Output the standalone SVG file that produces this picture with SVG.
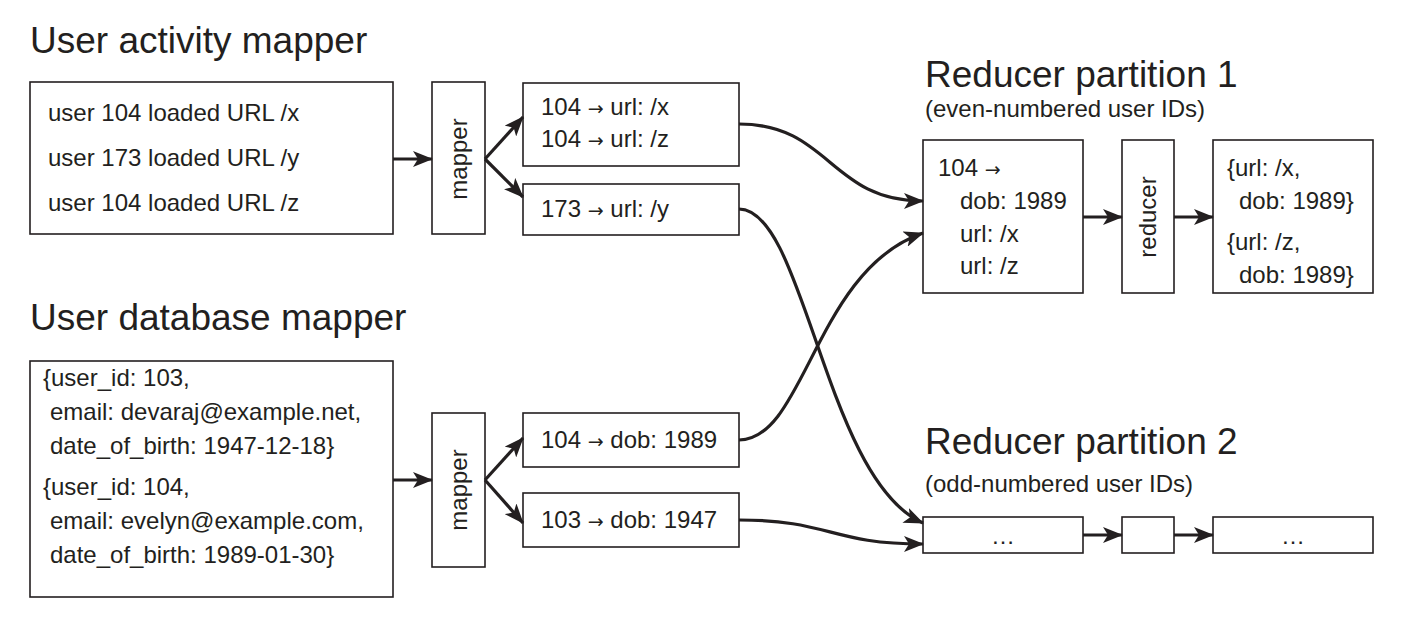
<svg xmlns="http://www.w3.org/2000/svg" width="1405" height="623" viewBox="0 0 1405 623">
  <style>
    text { font-family: "Liberation Sans", Arial, sans-serif; fill: #231f20; }
    .title { font-size: 37px; }
    .sub { font-size: 24px; }
    .body { font-size: 24px; }
    .box { fill: #ffffff; stroke: #231f20; stroke-width: 1.6; }
    .arr { font-family: "DejaVu Sans", sans-serif; font-size: 19px; }
    .edge { fill: none; stroke: #231f20; stroke-width: 3.2; marker-end: url(#head); }
  </style>
  <defs>
    <marker id="head" viewBox="0 0 20 16" markerWidth="20" markerHeight="16" refX="19" refY="8" orient="auto" markerUnits="userSpaceOnUse">
      <path d="M0,0 L20,8 L0,16 L5,8 Z" fill="#231f20"/>
    </marker>
  </defs>
  <rect width="1405" height="623" fill="#ffffff"/>

  <!-- section titles -->
  <g id="titles">
    <text class="title" x="30" y="53">User activity mapper</text>
    <text class="title" x="30" y="330">User database mapper</text>
    <text class="title" x="925" y="87">Reducer partition 1</text>
    <text class="sub" x="925" y="117">(even-numbered user IDs)</text>
    <text class="title" x="925" y="454">Reducer partition 2</text>
    <text class="sub" x="925" y="492">(odd-numbered user IDs)</text>
  </g>

  <!-- activity events -->
  <g id="activity-input">
    <rect class="box" x="30" y="82" width="363" height="152"/>
    <text class="body" x="48" y="121">user 104 loaded URL /x</text>
    <text class="body" x="48" y="166">user 173 loaded URL /y</text>
    <text class="body" x="48" y="211">user 104 loaded URL /z</text>
  </g>

  <g id="activity-mapper">
    <rect class="box" x="432" y="82" width="53" height="152"/>
    <text class="body" transform="translate(467,159) rotate(-90)" text-anchor="middle">mapper</text>
  </g>

  <g id="activity-out-104">
    <rect class="box" x="523" y="83" width="216" height="83"/>
    <text class="body" x="541" y="115">104 <tspan class="arr">→</tspan> url: /x</text>
    <text class="body" x="541" y="147">104 <tspan class="arr">→</tspan> url: /z</text>
  </g>

  <g id="activity-out-173">
    <rect class="box" x="523" y="184" width="216" height="51"/>
    <text class="body" x="541" y="217">173 <tspan class="arr">→</tspan> url: /y</text>
  </g>

  <!-- user records -->
  <g id="database-input">
    <rect class="box" x="30" y="361" width="363" height="236"/>
    <text class="body" x="43" y="386">{user_id: 103,</text>
    <text class="body" x="50" y="420">email: devaraj@example.net,</text>
    <text class="body" x="50" y="454">date_of_birth: 1947-12-18}</text>
    <text class="body" x="43" y="495">{user_id: 104,</text>
    <text class="body" x="50" y="529">email: evelyn@example.com,</text>
    <text class="body" x="50" y="563">date_of_birth: 1989-01-30}</text>
  </g>

  <g id="database-mapper">
    <rect class="box" x="432" y="413" width="53" height="154"/>
    <text class="body" transform="translate(467,490) rotate(-90)" text-anchor="middle">mapper</text>
  </g>

  <g id="database-out-104">
    <rect class="box" x="523" y="413" width="216" height="54"/>
    <text class="body" x="541" y="448">104 <tspan class="arr">→</tspan> dob: 1989</text>
  </g>

  <g id="database-out-103">
    <rect class="box" x="523" y="493" width="216" height="54"/>
    <text class="body" x="541" y="528">103 <tspan class="arr">→</tspan> dob: 1947</text>
  </g>

  <!-- partition 1 -->
  <g id="p1-grouped">
    <rect class="box" x="923" y="140" width="160" height="153"/>
    <text class="body" x="938" y="176">104 <tspan class="arr">→</tspan></text>
    <text class="body" x="960" y="209">dob: 1989</text>
    <text class="body" x="960" y="242">url: /x</text>
    <text class="body" x="960" y="274">url: /z</text>
  </g>

  <g id="p1-reducer">
    <rect class="box" x="1122" y="140" width="52" height="153"/>
    <text class="body" transform="translate(1156,217) rotate(-90)" text-anchor="middle">reducer</text>
  </g>

  <g id="p1-output">
    <rect class="box" x="1213" y="140" width="160" height="153"/>
    <text class="body" x="1227" y="176">{url: /x,</text>
    <text class="body" x="1239" y="209">dob: 1989}</text>
    <text class="body" x="1227" y="250">{url: /z,</text>
    <text class="body" x="1239" y="283">dob: 1989}</text>
  </g>

  <!-- partition 2 -->
  <g id="p2-grouped">
    <rect class="box" x="923" y="517" width="160" height="36"/>
    <text class="body" x="1003" y="544" text-anchor="middle">…</text>
  </g>

  <g id="p2-reducer">
    <rect class="box" x="1122" y="517" width="52" height="36"/>
  </g>

  <g id="p2-output">
    <rect class="box" x="1213" y="517" width="160" height="36"/>
    <text class="body" x="1293" y="544" text-anchor="middle">…</text>
  </g>

  <!-- connectors -->
  <g id="connectors">
    <path class="edge" d="M393,159 L432,159"/>
    <path class="edge" d="M485,159 L523,117"/>
    <path class="edge" d="M485,159 L523,197"/>
    <path class="edge" d="M393,480 L432,480"/>
    <path class="edge" d="M485,480 L523,438"/>
    <path class="edge" d="M485,480 L523,523"/>

    <path class="edge" d="M739,124 C830,124 830,201 923,201"/>
    <path class="edge" d="M739,209 C805,209 825,480 923,523"/>
    <path class="edge" d="M739,440 C805,440 815,270 923,233"/>
    <path class="edge" d="M739,520 C830,520 830,544 923,544"/>

    <path class="edge" d="M1083,217 L1122,217"/>
    <path class="edge" d="M1174,217 L1213,217"/>
    <path class="edge" d="M1083,535 L1122,535"/>
    <path class="edge" d="M1174,535 L1213,535"/>
  </g>
</svg>
